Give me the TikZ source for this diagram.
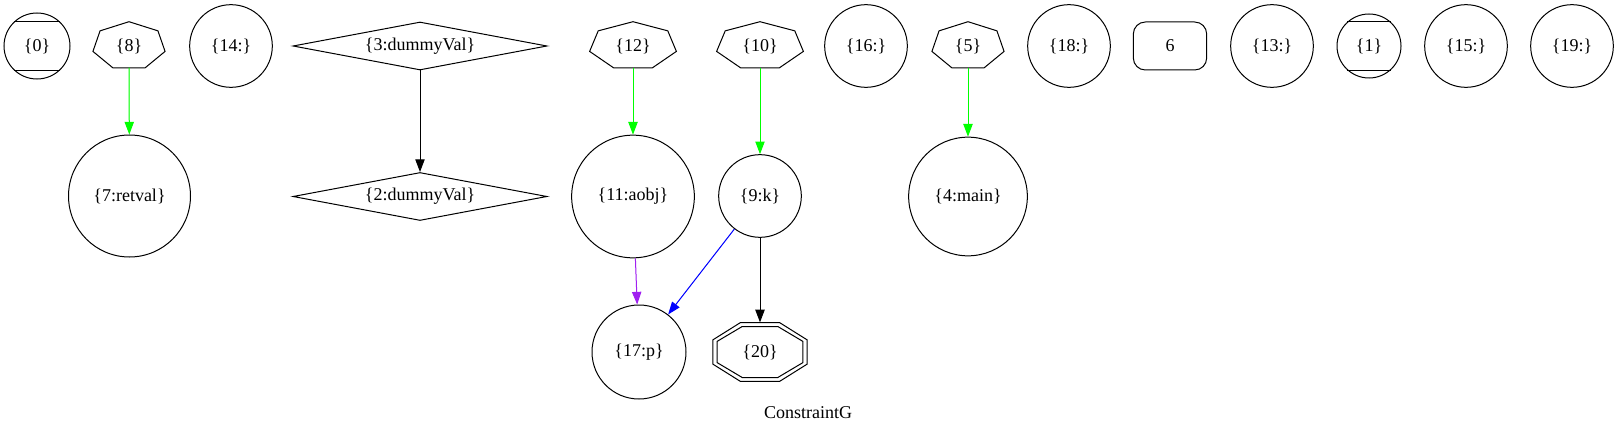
\documentclass[tikz,border=0pt]{standalone}
\usepackage{fontspec}
\setmainfont{Liberation Serif}
\usetikzlibrary{arrows.meta,shapes.geometric,calc}
\definecolor{gvgreen}{rgb}{0,1,0}
\definecolor{gvblue}{rgb}{0,0,1}
\definecolor{gvpurple}{rgb}{0.627,0.125,0.941}

\newcommand{\drawhepta}[2]{\draw[outline] ($(#1)+(270:#2)$)
  \foreach \k in {1,...,6} {-- ($(#1)+(270+\k*360/7:#2)$)} -- cycle;}
\newcommand{\drawocta}[2]{\draw[outline] ($(#1)+(22.5:#2)$)
  \foreach \k in {1,...,7} {-- ($(#1)+(22.5+\k*45:#2)$)} -- cycle;}

\begin{document}
\begin{tikzpicture}[x=0.75pt, y=-0.75pt,
  every node/.style={font=\fontsize{13.5}{15}\selectfont},
  outline/.style={draw=black, line width=0.75pt},
  cnode/.style={circle, outline, inner sep=0pt, minimum size=#1},
  dnode/.style={diamond, outline, aspect=5.3, inner sep=0pt,
  minimum width=190.5pt, minimum height=36pt},
  rnode/.style={rectangle, outline, rounded corners=9pt, inner sep=0pt,
  minimum width=55pt, minimum height=36pt},
  hnode/.style={rectangle, inner sep=0pt, minimum width=#1, minimum height=32pt},
  onode/.style={rectangle, inner sep=0pt, minimum width=70.5pt, minimum height=44pt},
  arrow/.style={-{Triangle[length=9.5pt, width=7pt]}, line width=0.75pt, draw=black},
  garrow/.style={arrow, draw=gvgreen, fill=gvgreen},
  barrow/.style={arrow, draw=gvblue, fill=gvblue},
  parrow/.style={arrow, draw=gvpurple, fill=gvpurple}
]
\useasboundingbox (0,0) rectangle (1618,435);

\node[cnode=49.5pt] (n0) at (37,46) {\{0\}};
\node[hnode=55.5pt] (n8) at (129,46) {\{8\}};
\node[cnode=62pt] (n14) at (231,46) {\{14:\}};
\node[dnode] (n3) at (420,46) {\{3:dummyVal\}};
\node[hnode=67pt] (n12) at (633,46) {\{12\}};
\node[hnode=67pt] (n10) at (760,46) {\{10\}};
\node[cnode=62pt] (n16) at (866,46) {\{16:\}};
\node[hnode=55.5pt] (n5) at (968,46) {\{5\}};
\node[cnode=62pt] (n18) at (1069,46) {\{18:\}};
\node[rnode] (n6) at (1170,46) {6};
\node[cnode=62pt] (n13) at (1272,46) {\{13:\}};
\node[cnode=48pt] (n1) at (1369,46) {\{1\}};
\node[cnode=62pt] (n15) at (1466,46) {\{15:\}};
\node[cnode=62pt] (n19) at (1572,46) {\{19:\}};

\node[cnode=91.5pt] (n7) at (129.5,196) {\{7:retval\}};
\node[dnode] (n2) at (420,196.5) {\{2:dummyVal\}};
\node[cnode=92pt] (n11) at (633,196.5) {\{11:aobj\}};
\node[cnode=62pt] (n9) at (760,196) {\{9:k\}};
\node[cnode=89pt] (n4) at (968,196.5) {\{4:main\}};

\node[cnode=70.5pt] (n17) at (639,352) {\{17:p\}};
\node[onode] (n20) at (760,352) {\{20\}};

\node (title) at (808,413) {ConstraintG};

\draw[outline] (n0.133) -- (n0.47) (n0.-133) -- (n0.-47);
\draw[outline] (n1.132) -- (n1.48) (n1.-132) -- (n1.-48);
\drawhepta{n8}{37 and 24.3}
\drawhepta{n12}{44.5 and 24.3}
\drawhepta{n10}{44.5 and 24.3}
\drawhepta{n5}{37 and 24.3}
\drawocta{n20}{50.9 and 31.9}
\drawocta{n20}{46.5 and 27.6}

\draw[garrow] (n8) -- (n7);
\draw[arrow, fill=black] (n3) -- (n2);
\draw[garrow] (n12) -- (n11);
\draw[garrow] (n10) -- (n9);
\draw[garrow] (n5) -- (n4);
\draw[parrow] (n11) -- (n17);
\draw[barrow] (n9) -- (n17);
\draw[arrow, fill=black] (n9) -- (n20);
\end{tikzpicture}
\end{document}
